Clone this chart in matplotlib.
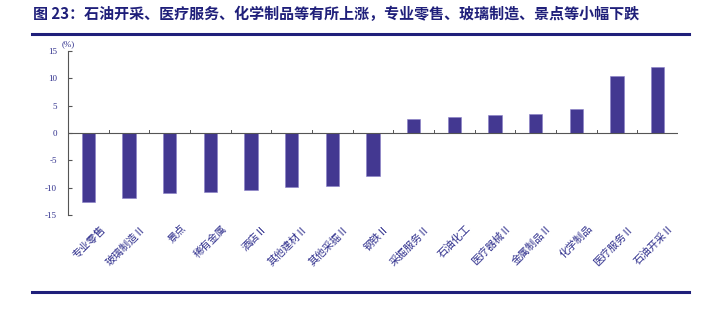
import matplotlib
matplotlib.use("Agg")
import matplotlib.pyplot as plt
import numpy as np

plt.rcParams['font.family'] = ['Noto Sans CJK SC', 'DejaVu Sans']

categories = ["专业零售", "玻璃制造Ⅱ", "景点", "稀有金属", "酒店Ⅱ", "其他建材Ⅱ", "其他采掘Ⅱ",
              "钢铁Ⅱ", "采掘服务Ⅱ", "石油化工", "医疗器械Ⅱ", "金属制品Ⅱ", "化学制品",
              "医疗服务Ⅱ", "石油开采Ⅱ"]
values = [-12.6, -11.9, -11.0, -10.8, -10.5, -9.8, -9.7, -7.9, 2.56, 2.98, 3.3, 3.5, 4.45, 10.35, 12.1]
yticks = [-15, -10, -5, 0, 5, 10, 15]
title = "图 23：石油开采、医疗服务、化学制品等有所上涨，专业零售、玻璃制造、景点等小幅下跌"

bar_color = "#433891"
text_color = "#2e2e8c"
line_color = "#1f1f7a"

fig = plt.figure(figsize=(7.24, 3.26), dpi=100)
ax = fig.add_axes([68/724, 1-215/326, 610/724, 164/326])

x = np.arange(len(categories))
ax.bar(x, values, width=0.33, color=bar_color, edgecolor="#8a80c8", linewidth=0.4, zorder=3)

ax.set_xlim(-0.5, len(categories) - 0.5)
ax.set_ylim(-15, 15)
ax.set_yticks(yticks)
ax.set_yticklabels([str(v) for v in yticks], fontsize=6.5, color=text_color, family=['Liberation Serif', 'DejaVu Serif'])
ax.tick_params(axis='y', direction='in', length=3, width=0.8, color="#555555", pad=8)

for s in ['top', 'right', 'bottom']:
    ax.spines[s].set_visible(False)
ax.spines['left'].set_color("#555555")
ax.spines['left'].set_linewidth(0.8)

ax.axhline(0, color="#555555", linewidth=0.8, zorder=4)
ax.set_xticks([])
for b in np.arange(0.5, len(categories), 1.0):
    ax.plot([b, b], [0, 0.5], color="#555555", linewidth=0.7, zorder=4)

for i, c in enumerate(categories):
    ax.annotate(c, xy=(i, -15), xycoords='data', xytext=(8, -6), textcoords='offset points',
                rotation=45, rotation_mode='anchor', ha='right', va='top',
                fontsize=7.5, color=text_color, annotation_clip=False)

ax.text(0, 15.6, "(%)", fontsize=6.5, color=text_color, ha='center', va='bottom',
        transform=ax.get_yaxis_transform(), family=['Liberation Serif', 'DejaVu Serif'])

fig.text(33/724, 1-14/326, title, fontsize=10.8, fontweight='bold', color=line_color,
         ha='left', va='center')
fig.add_artist(plt.Line2D([32/724, 689/724], [1-34/326, 1-34/326], color=line_color, linewidth=2.2))
fig.add_artist(plt.Line2D([32/724, 689/724], [1-292/326, 1-292/326], color=line_color, linewidth=2.2))

fig.savefig("out.png", dpi=100)
